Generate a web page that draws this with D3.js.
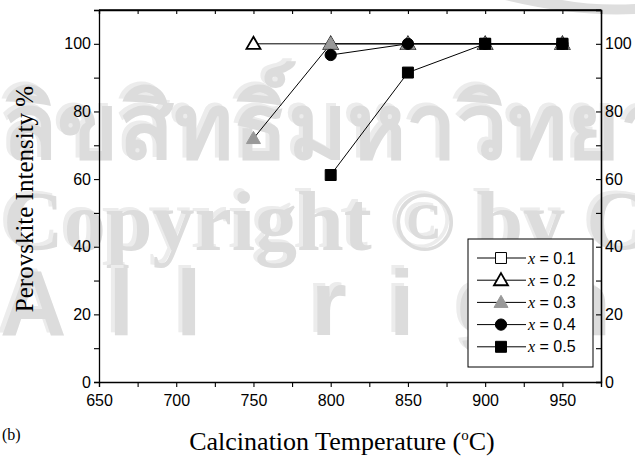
<!DOCTYPE html>
<html><head><meta charset="utf-8">
<script src="https://cdn.jsdelivr.net/npm/d3@7"></script>
<style>body{margin:0;background:#fff}svg{display:block}</style>
</head><body>
<script>
const temps = [750, 800, 850, 900, 950];
const series = [
  {name: "0.1", shape: "square", fill: "#fff", stroke: "#000", values: [null, null, null, 100, 100]},
  {name: "0.2", shape: "triangle", fill: "#fff", stroke: "#000", values: [100, 100, 100, 100, 100]},
  {name: "0.3", shape: "triangle", fill: "#999", stroke: "#999", values: [72, 100, 100, 100, 100]},
  {name: "0.4", shape: "circle", fill: "#000", stroke: "#000", values: [null, 96.7, 100, 100, 100]},
  {name: "0.5", shape: "square", fill: "#000", stroke: "#000", values: [null, 61.2, 91.5, 100, 100]}
];
const xTicks = [650, 700, 750, 800, 850, 900, 950];
const yTicks = [0, 20, 40, 60, 80, 100];

const W = 635, H = 458;
const L = 99, R = 601, T = 10, B = 382;
const svg = d3.select("body").append("svg").attr("width", W).attr("height", H);

// watermark (background)
const wm = svg.append("g");
wm.append("path").attr("d", "M505,0 Q575,17 635,14 L635,4 Q595,6 562,0 Z").attr("fill", "#dedede");
const wmLines = [
  {t: "ลิขสิทธิ์มหาวิทยาลัยเชียงใหม่", x: 2, y: 158, size: 90, font: "'DejaVu Sans', sans-serif", ls: 0},
  {t: "Copyright © by Chiang Mai University", x: 3, y: 250, size: 84, font: "'Liberation Serif', serif", ls: 0},
  {t: "All rights reserved", x: 0, y: 335, size: 92, font: "'Liberation Sans', sans-serif", ls: 42}
];
wmLines.forEach(d => {
  [[-4, -3, "#ececec"], [0, 0, "#dcdcdc"]].forEach(([dx, dy, c]) => {
    wm.append("text").attr("x", d.x + dx).attr("y", d.y + dy).attr("font-size", d.size)
      .attr("font-family", d.font).attr("font-weight", "bold").attr("letter-spacing", d.ls)
      .attr("fill", c).text(d.t);
  });
});

const x = d3.scaleLinear().domain([650, 975]).range([L, R]);
const y = d3.scaleLinear().domain([0, 110]).range([B, T]);

const tickFont = "'Liberation Sans', Arial, sans-serif";
// bottom axis
svg.append("g").attr("transform", `translate(0,${B})`)
  .call(d3.axisBottom(x).tickValues(d3.range(650, 976, 25)).tickSize(5).tickPadding(8)
    .tickFormat(d => xTicks.includes(d) ? d : ""));
// top axis (ticks inside)
svg.append("g").attr("transform", `translate(0,${T})`)
  .call(d3.axisBottom(x).tickValues(d3.range(650, 976, 25)).tickSize(4).tickFormat(""));
// left axis
svg.append("g").attr("transform", `translate(${L},0)`)
  .call(d3.axisLeft(y).tickValues(d3.range(0, 111, 10)).tickSize(5).tickPadding(3)
    .tickFormat(d => yTicks.includes(d) ? d : ""));
// right axis (ticks inside)
svg.append("g").attr("transform", `translate(${R},0)`)
  .call(d3.axisLeft(y).tickValues(d3.range(0, 111, 10)).tickSize(5).tickFormat(""));
svg.append("g").attr("transform", `translate(${R},0)`)
  .call(d3.axisRight(y).tickValues(yTicks).tickSize(0).tickPadding(4));

svg.selectAll(".domain").attr("stroke", "#000").attr("stroke-width", 1.3);
svg.selectAll(".tick line").attr("stroke", "#000").attr("stroke-width", 1.1);
svg.selectAll(".tick text").attr("font-family", tickFont).attr("font-size", 16).attr("fill", "#000");
svg.append("line").attr("x1", L).attr("x2", R).attr("y1", T).attr("y2", T).attr("stroke", "#000").attr("stroke-width", 1.3);

function sym(shape) {
  if (shape === "square") return d3.symbol(d3.symbolSquare, 120);
  if (shape === "triangle") return d3.symbol(d3.symbolTriangle, 85);
  return d3.symbol(d3.symbolCircle, 100);
}

const line = d3.line().defined(d => d[1] != null).x(d => x(d[0])).y(d => y(d[1]));
const plot = svg.append("g");
series.forEach(s => {
  const pts = temps.map((t, i) => [t, s.values[i]]);
  plot.append("path").attr("d", line(pts)).attr("fill", "none").attr("stroke", "#000").attr("stroke-width", 1);
});
series.forEach(s => {
  const pts = temps.map((t, i) => [t, s.values[i]]).filter(d => d[1] != null);
  plot.selectAll(null).data(pts).enter().append("path")
    .attr("d", sym(s.shape))
    .attr("transform", d => `translate(${x(d[0])},${y(d[1]) + (s.shape === "triangle" ? 1 : 0)})`)
    .attr("fill", s.fill).attr("stroke", s.stroke)
    .attr("stroke-width", s.name === "0.2" ? 1.8 : 1);
});

// legend
const lg = svg.append("g");
lg.append("rect").attr("x", 468).attr("y", 239).attr("width", 125).attr("height", 128)
  .attr("fill", "#fff").attr("stroke", "#000").attr("stroke-width", 1);
series.forEach((s, i) => {
  const yy = 258 + i * 22.2;
  lg.append("line").attr("x1", 477).attr("x2", 526).attr("y1", yy).attr("y2", yy).attr("stroke", "#000");
  lg.append("path").attr("d", sym(s.shape)).attr("transform", `translate(501,${yy + (s.shape === "triangle" ? 1 : 0)})`)
    .attr("fill", s.fill).attr("stroke", s.stroke).attr("stroke-width", s.name === "0.2" ? 1.8 : 1);
  const t = lg.append("text").attr("x", 528).attr("y", yy + 5.5).attr("font-size", 16).attr("fill", "#000");
  t.append("tspan").attr("font-family", "'Liberation Serif', serif").attr("font-style", "italic").text("x");
  t.append("tspan").attr("font-family", tickFont).text(" = " + s.name);
});

// titles
const xt = svg.append("text").attr("x", 342).attr("y", 450).attr("text-anchor", "middle")
  .attr("font-family", "'Liberation Serif', serif").attr("font-size", 26).attr("fill", "#000");
xt.append("tspan").text("Calcination Temperature (");
xt.append("tspan").attr("font-size", 15).attr("dy", -10).text("o");
xt.append("tspan").attr("dy", 10).text("C)");

svg.append("text").attr("transform", "translate(33,199) rotate(-90)").attr("text-anchor", "middle")
  .attr("font-family", "'Liberation Serif', serif").attr("font-size", 25).attr("fill", "#000")
  .text("Perovskite Intensity %");

svg.append("text").attr("x", 2).attr("y", 440).attr("font-family", "'Liberation Serif', serif")
  .attr("font-size", 16).attr("fill", "#000").text("(b)");
</script>
</body></html>
